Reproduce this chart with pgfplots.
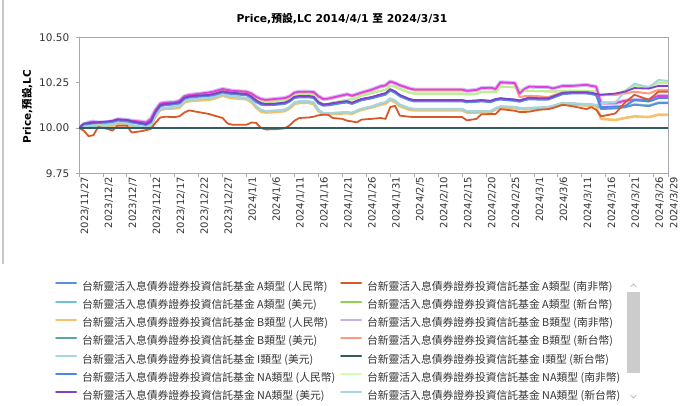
\documentclass[border=0pt]{standalone}
\usepackage{fontspec}
\setmainfont{DejaVu Sans}
\newfontfamily\cjk{Noto Sans CJK TC}
\usepackage{pgfplots}
\usepackage{pgfplotstable}
\pgfplotsset{compat=1.18}
\definecolor{cAcny}{HTML}{5B8FDB}
\definecolor{cAzar}{HTML}{D9582A}
\definecolor{cAusd}{HTML}{6CC4D4}
\definecolor{cAtwd}{HTML}{92D050}
\definecolor{cBcny}{HTML}{F5C26B}
\definecolor{cBzar}{HTML}{C5B0F0}
\definecolor{cBusd}{HTML}{5BA5A8}
\definecolor{cBtwd}{HTML}{FF9A80}
\definecolor{cIusd}{HTML}{A8D8DC}
\definecolor{cItwd}{HTML}{2E5E62}
\definecolor{cNcny}{HTML}{4F87E8}
\definecolor{cNzar}{HTML}{D0FFB0}
\definecolor{cNusd}{HTML}{8040C8}
\definecolor{cNtwd}{HTML}{A8D4DC}
\definecolor{cMag}{HTML}{E040E0}
\definecolor{axgray}{HTML}{A8A8B0}
\definecolor{txt}{HTML}{333333}

\pgfplotstableread{
d    T      G      BU     P      BL     L      NT     Y      O      S
0    10.000 10.000 10.000 10.000 10.000 10.000 10.000 10.000 10.000 10.000
1    10.020 10.010 10.022 10.024 10.020 10.005 10.006 10.000 9.985  10.018
2    10.030 10.015 10.025 10.027 10.022 10.010 10.011 10.002 9.955  10.028
3    10.035 10.020 10.028 10.030 10.025 10.012 10.013 10.005 9.960  10.033
4    10.030 10.020 10.030 10.032 10.027 10.012 10.013 10.005 10.005 10.028
6    10.032 10.022 10.034 10.036 10.030 10.015 10.016 10.008 9.995  10.030
7    10.038 10.028 10.037 10.039 10.033 10.020 10.021 10.012 9.985  10.036
8    10.048 10.038 10.045 10.047 10.040 10.028 10.029 10.020 10.012 10.046
10   10.045 10.035 10.042 10.044 10.037 10.025 10.026 10.018 10.012 10.043
11   10.040 10.030 10.035 10.037 10.030 10.015 10.016 10.008 9.975  10.038
13   10.035 10.025 10.025 10.027 10.020 10.005 10.006 10.000 9.982  10.033
14   10.030 10.020 10.020 10.022 10.016 10.002 10.003 9.998  9.988  10.028
15   10.050 10.040 10.035 10.037 10.030 10.015 10.016 10.010 9.995  10.048
16   10.100 10.090 10.090 10.092 10.085 10.070 10.071 10.065 10.030 10.098
17   10.135 10.125 10.125 10.127 10.120 10.105 10.106 10.100 10.058 10.133
18   10.140 10.130 10.130 10.132 10.125 10.110 10.111 10.105 10.062 10.138
20   10.142 10.132 10.135 10.137 10.130 10.115 10.116 10.108 10.060 10.140
21   10.150 10.140 10.140 10.142 10.135 10.120 10.121 10.112 10.065 10.148
22   10.175 10.165 10.165 10.167 10.160 10.148 10.149 10.140 10.085 10.173
23   10.182 10.172 10.172 10.174 10.168 10.155 10.156 10.148 10.097 10.180
24   10.185 10.175 10.175 10.177 10.170 10.158 10.159 10.150 10.092 10.183
27   10.195 10.185 10.180 10.182 10.176 10.162 10.163 10.155 10.078 10.193
28   10.200 10.190 10.185 10.187 10.180 10.168 10.169 10.160 10.070 10.198
30   10.215 10.205 10.200 10.202 10.195 10.185 10.186 10.178 10.055 10.213
31   10.210 10.200 10.195 10.197 10.190 10.178 10.179 10.170 10.025 10.208
32   10.205 10.195 10.192 10.194 10.186 10.172 10.173 10.165 10.018 10.203
35   10.200 10.190 10.185 10.187 10.180 10.165 10.166 10.158 10.018 10.198
36   10.190 10.180 10.172 10.174 10.165 10.150 10.151 10.143 10.030 10.188
37   10.172 10.160 10.150 10.152 10.142 10.120 10.121 10.112 10.028 10.170
38   10.160 10.145 10.135 10.137 10.128 10.098 10.099 10.090 10.000 10.158
39   10.155 10.140 10.130 10.132 10.125 10.092 10.093 10.085 9.992  10.153
41   10.160 10.145 10.132 10.134 10.127 10.095 10.096 10.088 9.993  10.158
43   10.165 10.150 10.138 10.140 10.132 10.100 10.101 10.093 9.998  10.163
44   10.175 10.160 10.150 10.152 10.145 10.115 10.116 10.108 10.015 10.173
45   10.195 10.180 10.170 10.172 10.165 10.140 10.141 10.132 10.040 10.193
46   10.200 10.185 10.174 10.176 10.168 10.146 10.147 10.138 10.055 10.198
48   10.200 10.185 10.174 10.176 10.168 10.146 10.147 10.138 10.058 10.198
49   10.198 10.182 10.170 10.172 10.165 10.140 10.141 10.132 10.062 10.196
50   10.175 10.150 10.140 10.142 10.135 10.100 10.101 10.093 10.070 10.173
51   10.160 10.130 10.128 10.130 10.122 10.080 10.081 10.075 10.073 10.158
52   10.162 10.133 10.130 10.132 10.124 10.080 10.081 10.075 10.073 10.160
53   10.168 10.140 10.135 10.137 10.128 10.082 10.083 10.077 10.055 10.166
55   10.180 10.150 10.143 10.145 10.137 10.085 10.086 10.080 10.050 10.178
56   10.186 10.156 10.146 10.148 10.140 10.087 10.088 10.082 10.040 10.184
57   10.178 10.158 10.137 10.139 10.132 10.082 10.083 10.078 10.036 10.176
58   10.186 10.165 10.148 10.150 10.142 10.095 10.096 10.090 10.031 10.184
59   10.195 10.178 10.158 10.160 10.152 10.105 10.106 10.100 10.046 10.193
61   10.210 10.192 10.168 10.170 10.162 10.117 10.118 10.112 10.050 10.208
63   10.230 10.205 10.183 10.185 10.176 10.135 10.136 10.128 10.055 10.228
64   10.235 10.210 10.190 10.192 10.183 10.140 10.141 10.134 10.050 10.233
65   10.256 10.232 10.212 10.214 10.205 10.162 10.163 10.155 10.115 10.254
66   10.248 10.228 10.200 10.202 10.193 10.150 10.151 10.142 10.122 10.246
67   10.236 10.215 10.180 10.182 10.174 10.128 10.129 10.120 10.068 10.234
69   10.218 10.195 10.158 10.160 10.152 10.108 10.109 10.100 10.062 10.216
70   10.212 10.190 10.152 10.154 10.146 10.104 10.105 10.097 10.060 10.210
80   10.212 10.190 10.152 10.154 10.146 10.104 10.105 10.097 10.060 10.210
81   10.205 10.185 10.147 10.149 10.141 10.091 10.092 10.085 10.042 10.203
83   10.210 10.188 10.150 10.152 10.144 10.091 10.092 10.085 10.050 10.208
84   10.220 10.198 10.152 10.154 10.146 10.092 10.093 10.086 10.075 10.218
86   10.222 10.200 10.148 10.150 10.142 10.093 10.094 10.087 10.077 10.220
87   10.215 10.198 10.158 10.160 10.152 10.108 10.109 10.102 10.077 10.213
88   10.252 10.228 10.162 10.164 10.156 10.118 10.119 10.112 10.104 10.250
91   10.248 10.225 10.155 10.157 10.149 10.115 10.116 10.109 10.095 10.246
92   10.190 10.212 10.150 10.152 10.144 10.110 10.111 10.104 10.088 10.170
93   10.215 10.205 10.158 10.160 10.152 10.108 10.109 10.102 10.088 10.175
94   10.228 10.205 10.165 10.167 10.158 10.110 10.111 10.104 10.090 10.177
96   10.226 10.203 10.162 10.164 10.156 10.112 10.113 10.106 10.100 10.175
98   10.225 10.202 10.162 10.164 10.156 10.115 10.116 10.110 10.104 10.170
99   10.218 10.200 10.172 10.174 10.166 10.122 10.123 10.116 10.110 10.180
101  10.232 10.205 10.192 10.194 10.186 10.137 10.138 10.130 10.128 10.196
103  10.232 10.205 10.195 10.197 10.190 10.135 10.136 10.128 10.120 10.195
106  10.238 10.205 10.195 10.197 10.190 10.130 10.131 10.124 10.104 10.192
107  10.232 10.203 10.192 10.194 10.186 10.130 10.131 10.124 10.115 10.190
108  10.228 10.200 10.185 10.187 10.180 10.125 10.126 10.120 10.100 10.188
109  10.137 10.185 10.115 10.183 10.104 10.108 10.137 10.050 10.064 10.180
112  10.137 10.185 10.118 10.190 10.108 10.110 10.140 10.044 10.080 10.182
114  10.150 10.205 10.120 10.200 10.115 10.115 10.200 10.055 10.140 10.190
116  10.155 10.235 10.155 10.220 10.128 10.130 10.245 10.064 10.183 10.200
119  10.155 10.225 10.146 10.217 10.120 10.124 10.225 10.060 10.155 10.190
121  10.177 10.250 10.165 10.232 10.137 10.140 10.265 10.073 10.200 10.210
123  10.177 10.250 10.165 10.232 10.137 10.140 10.260 10.073 10.200 10.210
}\data

\begin{document}
\begin{tikzpicture}
\path[use as bounding box] (0bp,0bp) rectangle (684bp,406bp);
% container border at left
\draw[black!22, line width=1.2bp] (3bp,406bp) -- (3bp,142bp);
% legend scrollbar
\fill[black!20] (627bp,33bp) rectangle (640bp,114bp);
\draw[black!35, line width=0.6bp] (630.5bp,119bp) -- (633.5bp,122bp) -- (636.5bp,119bp);
\draw[black!35, line width=0.6bp] (630.5bp,11bp) -- (633.5bp,8bp) -- (636.5bp,11bp);
\begin{axis}[
  at={(79bp,232.7bp)}, anchor=south west,
  scale only axis, width=589bp, height=136bp,
  xmin=0, xmax=123, ymin=9.75, ymax=10.5,
  axis line style={axgray, line width=0.8bp},
  tick pos=left, tick align=outside,
  major tick length=3.5bp,
  tick style={axgray, line width=0.8bp},
  xtick={0,5,10,15,20,25,30,35,40,45,50,55,60,65,70,75,80,85,90,95,100,105,110,115,120,123},
  xticklabels={2023/11/27,2023/12/2,2023/12/7,2023/12/12,2023/12/17,2023/12/22,2023/12/27,2024/1/1,2024/1/6,2024/1/11,2024/1/16,2024/1/21,2024/1/26,2024/1/31,2024/2/5,2024/2/10,2024/2/15,2024/2/20,2024/2/25,2024/3/1,2024/3/6,2024/3/11,2024/3/16,2024/3/21,2024/3/26,2024/3/29},
  xticklabel style={rotate=90, anchor=east, inner sep=0pt, yshift=-6bp, font=\fontsize{10bp}{12bp}\selectfont, text=txt},
  ytick={9.75,10,10.25,10.5},
  scaled y ticks=false,
  yticklabel style={inner sep=0pt, xshift=-6bp, font=\fontsize{10.5bp}{12bp}\selectfont, text=txt,
    /pgf/number format/fixed, /pgf/number format/fixed zerofill,
    /pgf/number format/precision=2, /pgf/number format/assume math mode=true},
  ylabel={Price,{\cjk 預設},LC},
  ylabel style={at={(axis description cs:-0.0883,0.49)}, anchor=center, rotate=0, font=\bfseries\fontsize{10.5bp}{12bp}\selectfont},
  title={Price,{\cjk 預設},LC 2014/4/1 {\cjk 至} 2024/3/31},
  title style={at={(axis description cs:0.4465,1.09)}, anchor=center, font=\bfseries\fontsize{10.8bp}{12bp}\selectfont},
  legend columns=2,
  legend cell align=left,
  legend style={at={(axis description cs:-0.0407,-0.800)}, anchor=north west, draw=none, fill=none,
    inner sep=0pt, outer sep=0pt, row sep=7.5bp,
    font=\cjk\fontsize{10.8bp}{12bp}\selectfont, text=txt,
    nodes={inner sep=0pt, text height=8.6bp, text depth=2bp},
    /tikz/every odd column/.append style={column sep=5bp}},
  legend image code/.code={\draw[#1, line width=2bp] (0bp,3.9bp) -- (20bp,3.9bp);},
  every axis plot/.append style={no markers, line join=round, line cap=round},
]
% ---- plotted series (z-order) ----
\addplot[forget plot, cBzar, line width=4bp, opacity=0.75] table[x=d,y=T]{\data};
\addplot[forget plot, cAtwd, line width=2bp] table[x=d,y=G]{\data};
\addplot[forget plot, cNzar, line width=2bp, opacity=0.7] table[x=d,y=G]{\data};
\addplot[forget plot, cBtwd, line width=2bp] table[x=d,y=S]{\data};
\addplot[forget plot, cMag, line width=1.8bp] table[x=d,y=T]{\data};
\addplot[forget plot, cBcny, line width=2.6bp] table[x=d,y=Y]{\data};
\addplot[forget plot, cIusd, line width=2.4bp] table[x=d,y=L]{\data};
\addplot[forget plot, cBusd, line width=1.6bp, opacity=0.5] table[x=d,y=L]{\data};
\addplot[forget plot, cNtwd, line width=1.8bp] table[x=d,y=NT]{\data};
\addplot[forget plot, cAusd, line width=2bp] table[x=d,y=BU]{\data};
\addplot[forget plot, cAcny, line width=1.8bp] table[x=d,y=BL]{\data};
\addplot[forget plot, cNcny, line width=1.8bp] table[x=d,y=BU]{\data};
\addplot[forget plot, cNusd, line width=1.8bp] table[x=d,y=P]{\data};
\addplot[forget plot, cAzar, line width=1.8bp] table[x=d,y=O]{\data};
\addplot[forget plot, cItwd, line width=1.8bp] coordinates {(0,10.00) (123,10.00)};
% ---- legend ----
\addlegendimage{cAcny}\addlegendentry{\makebox[258bp][l]{台新靈活入息債券證券投資信託基金 A類型 (人民幣)}}
\addlegendimage{cAzar}\addlegendentry{\makebox[258bp][l]{台新靈活入息債券證券投資信託基金 A類型 (南非幣)}}
\addlegendimage{cAusd}\addlegendentry{\makebox[258bp][l]{台新靈活入息債券證券投資信託基金 A類型 (美元)}}
\addlegendimage{cAtwd}\addlegendentry{\makebox[258bp][l]{台新靈活入息債券證券投資信託基金 A類型 (新台幣)}}
\addlegendimage{cBcny}\addlegendentry{\makebox[258bp][l]{台新靈活入息債券證券投資信託基金 B類型 (人民幣)}}
\addlegendimage{cBzar}\addlegendentry{\makebox[258bp][l]{台新靈活入息債券證券投資信託基金 B類型 (南非幣)}}
\addlegendimage{cBusd}\addlegendentry{\makebox[258bp][l]{台新靈活入息債券證券投資信託基金 B類型 (美元)}}
\addlegendimage{cBtwd}\addlegendentry{\makebox[258bp][l]{台新靈活入息債券證券投資信託基金 B類型 (新台幣)}}
\addlegendimage{cIusd}\addlegendentry{\makebox[258bp][l]{台新靈活入息債券證券投資信託基金 I類型 (美元)}}
\addlegendimage{cItwd}\addlegendentry{\makebox[258bp][l]{台新靈活入息債券證券投資信託基金 I類型 (新台幣)}}
\addlegendimage{cNcny}\addlegendentry{\makebox[258bp][l]{台新靈活入息債券證券投資信託基金 NA類型 (人民幣)}}
\addlegendimage{cNzar}\addlegendentry{\makebox[258bp][l]{台新靈活入息債券證券投資信託基金 NA類型 (南非幣)}}
\addlegendimage{cNusd}\addlegendentry{\makebox[258bp][l]{台新靈活入息債券證券投資信託基金 NA類型 (美元)}}
\addlegendimage{cNtwd}\addlegendentry{\makebox[258bp][l]{台新靈活入息債券證券投資信託基金 NA類型 (新台幣)}}
\end{axis}
\end{tikzpicture}
\end{document}
